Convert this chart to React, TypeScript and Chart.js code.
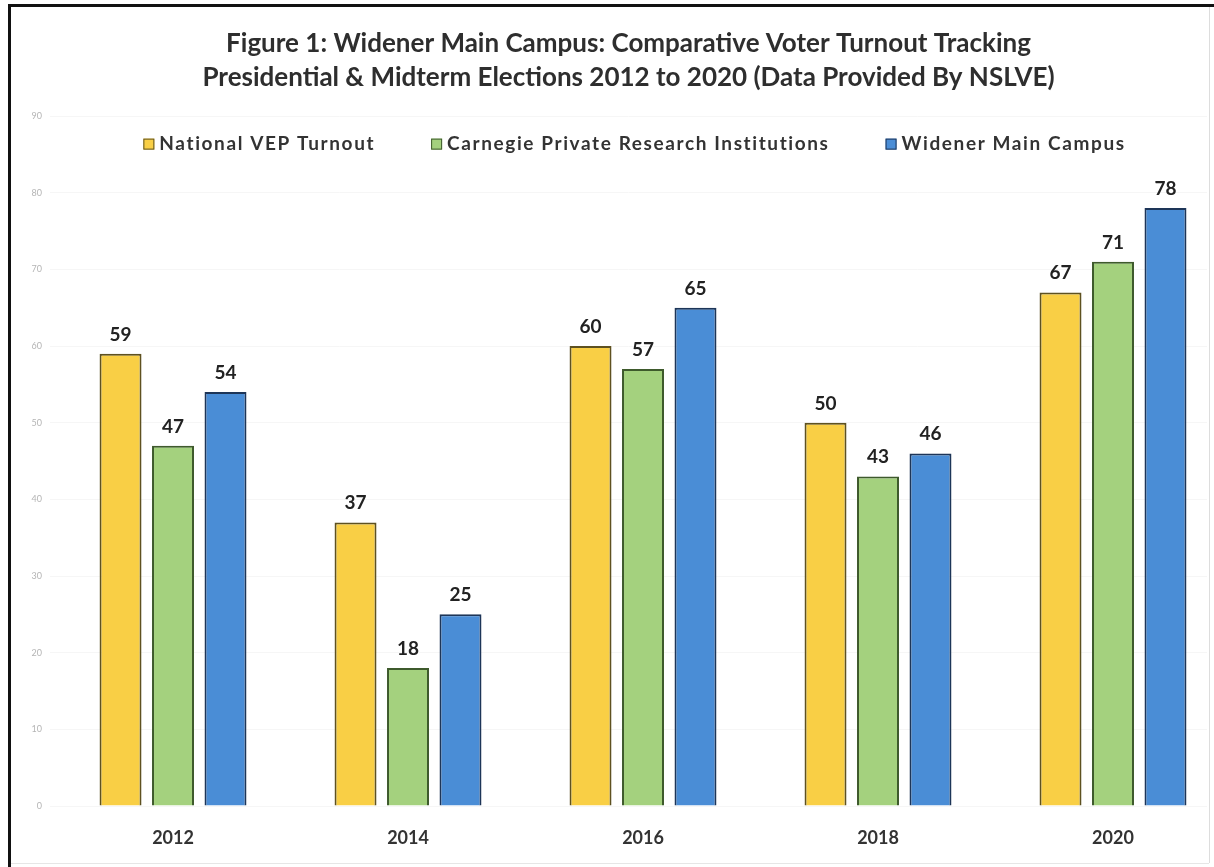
import React, { useEffect, useRef } from 'react';
import { Chart, registerables } from 'chart.js';

Chart.register(...registerables);

const years = [2012, 2014, 2016, 2018, 2020];
const nationalVEP = [59, 37, 60, 50, 67];
const carnegie = [47, 18, 57, 43, 71];
const widener = [54, 25, 65, 46, 78];
const seriesNames = [
  'National VEP Turnout',
  'Carnegie Private Research Institutions',
  'Widener Main Campus',
];
const titleLines = [
  'Figure 1: Widener Main Campus: Comparative Voter Turnout Tracking',
  'Presidential & Midterm Elections 2012 to 2020 (Data Provided By NSLVE)',
];
const yMin = 0;
const yMax = 90;
const yStep = 10;

const FONT = 'Lato, "Open Sans", sans-serif';

const fills = ['#F9CF45', '#A4D17E', '#4A8DD6'];
const strokes = ['#5e5120', '#3e5a2c', '#1d3558'];

const legendPlugin = {
  id: 'customLegend',
  afterDraw(chart: any) {
    const ctx = chart.ctx;
    const area = chart.chartArea;
    ctx.save();
    ctx.font = `bold 19px ${FONT}`;
    try { (ctx as any).letterSpacing = '1.6px'; } catch (e) {}
    const box = 11;
    const gap = 5;
    const spacing = 56;
    const items = chart.data.datasets.map((ds: any) => ({
      label: ds.label,
      fill: ds.backgroundColor,
      stroke: ds.borderColor,
      w: box + gap + ctx.measureText(ds.label).width,
    }));
    const total = items.reduce((s: number, it: any) => s + it.w, 0) + spacing * (items.length - 1);
    let x = (area.left + area.right) / 2 + 6 - total / 2;
    const y = area.top + 28;
    ctx.textBaseline = 'middle';
    ctx.textAlign = 'left';
    items.forEach((it: any) => {
      ctx.fillStyle = it.fill;
      ctx.fillRect(x, y - box / 2, box, box);
      ctx.strokeStyle = it.stroke;
      ctx.lineWidth = 1;
      ctx.strokeRect(x + 0.5, y - box / 2 + 0.5, box - 1, box - 1);
      ctx.fillStyle = '#333333';
      ctx.fillText(it.label, x + box + gap, y);
      x += it.w + spacing;
    });
    ctx.restore();
  },
};

const valueLabelPlugin = {
  id: 'valueLabels',
  afterDatasetsDraw(chart: any) {
    const ctx = chart.ctx;
    ctx.save();
    ctx.font = `bold 19px ${FONT}`;
    ctx.fillStyle = '#222222';
    ctx.textAlign = 'center';
    ctx.textBaseline = 'alphabetic';
    chart.data.datasets.forEach((ds: any, i: number) => {
      const meta = chart.getDatasetMeta(i);
      meta.data.forEach((el: any, j: number) => {
        const v = ds.data[j].y;
        ctx.fillText(String(v), el.x, el.y - 13);
      });
    });
    ctx.restore();
  },
};

export default function App() {
  const canvasRef = useRef<HTMLCanvasElement | null>(null);

  useEffect(() => {
    if (!canvasRef.current) return;
    const series = [nationalVEP, carnegie, widener];
    const chart = new Chart(canvasRef.current, {
      type: 'bar',
      data: {
        datasets: series.map((vals, i) => ({
          label: seriesNames[i],
          data: years.map((yr, j) => ({ x: yr, y: vals[j] })),
          backgroundColor: fills[i],
          borderColor: strokes[i],
          borderWidth: 2,
          categoryPercentage: 0.67,
          barPercentage: 0.8,
        })),
      },
      options: {
        animation: false,
        responsive: true,
        maintainAspectRatio: false,
        layout: { padding: { left: 20, right: 7, top: 0, bottom: 0 } },
        plugins: {
          legend: { display: false },
          tooltip: { enabled: false },
          title: {
            display: true,
            text: titleLines,
            fullSize: false,
            color: '#2e2e2e',
            font: { family: FONT, size: 26, weight: 'bold', lineHeight: 1.31 },
            padding: { top: 27, bottom: 21 },
          },
        },
        scales: {
          x: {
            type: 'linear',
            min: 2010.953,
            max: 2020.8,
            offset: false,
            grid: { display: false, drawTicks: false },
            border: { display: false },
            afterBuildTicks: (axis: any) => {
              axis.ticks = years.map((v) => ({ value: v }));
            },
            afterFit: (axis: any) => {
              axis.height = 61;
            },
            ticks: {
              padding: 21,
              color: '#333333',
              font: { family: FONT, size: 18, weight: 'bold' },
              callback: (v: any) => String(v),
            },
          },
          y: {
            min: yMin,
            max: yMax,
            grid: { color: '#f6f6f6', drawTicks: false },
            border: { display: false },
            afterFit: (axis: any) => {
              axis.width = 30;
            },
            ticks: {
              stepSize: yStep,
              padding: 8,
              color: '#b5b5b5',
              font: { family: FONT, size: 9 },
            },
          },
        },
      },
      plugins: [legendPlugin, valueLabelPlugin],
    } as any);
    return () => chart.destroy();
  }, []);

  return (
    <div style={{ position: 'fixed', left: 0, top: 0, width: 1214, height: 867, background: '#ffffff' }}>
      <canvas ref={canvasRef} />
      <div style={{ position: 'absolute', left: 8, top: 4, width: 1206, height: 3, background: '#111' }} />
      <div style={{ position: 'absolute', left: 8, top: 4, width: 3, height: 863, background: '#111' }} />
      <div style={{ position: 'absolute', left: 1209, top: 7, width: 1, height: 856, background: '#dddddd' }} />
      <div style={{ position: 'absolute', left: 11, top: 863, width: 1198, height: 1, background: '#e6e6e6' }} />
    </div>
  );
}
